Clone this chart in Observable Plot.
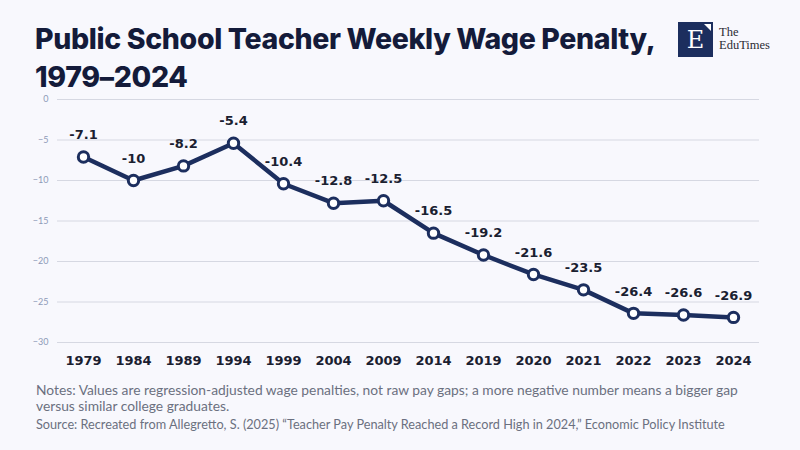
<!DOCTYPE html>
<html>
<head>
<meta charset="utf-8">
<script src="https://cdn.jsdelivr.net/npm/d3@7"></script>
<script src="https://cdn.jsdelivr.net/npm/@observablehq/plot@0.6"></script>
<style>
  html, body { margin: 0; padding: 0; }
  body { width: 800px; height: 450px; background: #f8f8fd; position: relative; overflow: hidden; font-family: "Lato", "DejaVu Sans", sans-serif; }
  #title { position: absolute; left: 35px; top: 20px; font-family: "Inter", "Lato", sans-serif; font-weight: 800; font-size: 28.5px; line-height: 38px; color: #141b3a; letter-spacing: -0.35px; white-space: nowrap; }
  #logo { position: absolute; left: 678px; top: 22px; width: 35px; height: 35px; background: #1c2e5e; }
  #logo .e { position: absolute; left: 0; top: 0; width: 35px; height: 35px; text-align: center; line-height: 37px; color: #fff; font-family: "DejaVu Serif", "Liberation Serif", serif; font-size: 24px; }
  #logo .tri { position: absolute; right: 2px; top: 2px; width: 0; height: 0; border-left: 7px solid transparent; border-top: 7px solid #fff; }
  #brand { position: absolute; left: 719px; top: 26px; font-family: "Liberation Serif", "DejaVu Serif", serif; font-size: 12.5px; line-height: 13px; color: #2b2b33; }
  #chart { position: absolute; left: 0; top: 88px; }
  #notes { position: absolute; left: 36px; top: 382px; font-size: 13.8px; line-height: 16px; color: #6b7080; width: 712px; }
  #source { position: absolute; left: 36px; top: 417px; font-size: 12.7px; line-height: 15px; color: #6b7080; white-space: nowrap; }
</style>
</head>
<body>
<div id="title">Public School Teacher Weekly Wage Penalty,<br>1979–2024</div>
<div id="logo"><div class="e">E</div><div class="tri"></div></div>
<div id="brand">The<br>EduTimes</div>
<div id="chart"></div>
<div id="notes">Notes: Values are regression-adjusted wage penalties, not raw pay gaps; a more negative number means a bigger gap versus similar college graduates.</div>
<div id="source">Source: Recreated from Allegretto, S. (2025) “Teacher Pay Penalty Reached a Record High in 2024,” Economic Policy Institute</div>
<script>
const years = ["1979","1984","1989","1994","1999","2004","2009","2014","2019","2020","2021","2022","2023","2024"];
const penalty = [-7.1, -10, -8.2, -5.4, -10.4, -12.8, -12.5, -16.5, -19.2, -21.6, -23.5, -26.4, -26.6, -26.9];
const yTicks = [0, -5, -10, -15, -20, -25, -30];

const data = years.map((y, i) => ({year: y, value: penalty[i]}));
const navy = "#1c2e5e";

const chart = Plot.plot({
  width: 800,
  height: 290,
  marginLeft: 57,
  marginRight: 41,
  marginTop: 11,
  marginBottom: 36,
  style: { background: "transparent", overflow: "visible" },
  x: { type: "point", domain: years, padding: 0.5, label: null },
  y: { domain: [-30, 0], ticks: yTicks, label: null },
  marks: [
    Plot.gridY(yTicks, { stroke: "#d6d8e2", strokeOpacity: 1, strokeWidth: 1 }),
    Plot.axisY(yTicks, { tickSize: 0, tickPadding: 9, fontSize: 9, fill: "#8e9ab8", fontFamily: "Lato, sans-serif", label: null }),
    Plot.axisX({ tickSize: 0, tickPadding: 13, fontSize: 13, fontWeight: "bold", fill: "#1a2030", fontFamily: "DejaVu Sans, sans-serif", label: null }),
    Plot.line(data, { x: "year", y: "value", stroke: navy, strokeWidth: 4.5, curve: "linear" }),
    Plot.dot(data, { x: "year", y: "value", r: 5.2, fill: "#ffffff", stroke: navy, strokeWidth: 3 }),
    Plot.text(data, { x: "year", y: "value", text: d => String(d.value), dy: -22, fontSize: 13, fontWeight: "bold", fill: "#1a2030", fontFamily: "DejaVu Sans, sans-serif" })
  ]
});
document.getElementById("chart").appendChild(chart);
</script>
</body>
</html>
